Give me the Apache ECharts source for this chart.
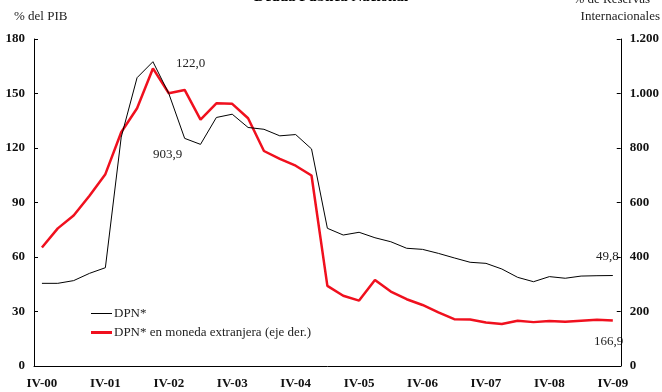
<!DOCTYPE html>
<html>
<head>
<meta charset="utf-8">
<script src="https://cdn.jsdelivr.net/npm/echarts@6/dist/echarts.min.js"></script>
<style>
html,body{margin:0;padding:0;background:#fff;}
#chart{width:662px;height:392px;}
</style>
</head>
<body>
<div id="chart"></div>
<script>
var categories = [
  'IV-00',
  'I-01','II-01','III-01','IV-01',
  'I-02','II-02','III-02','IV-02',
  'I-03','II-03','III-03','IV-03',
  'I-04','II-04','III-04','IV-04',
  'I-05','II-05','III-05','IV-05',
  'I-06','II-06','III-06','IV-06',
  'I-07','II-07','III-07','IV-07',
  'I-08','II-08','III-08','IV-08',
  'I-09','II-09','III-09','IV-09'
];
var dpnPib = [
  45.5,
  45.5, 47.0, 51.0, 54.1,
  126.0, 158.7, 167.5, 150.0,
  125.3, 122.0, 136.8, 138.6,
  131.3, 130.3, 126.7, 127.4,
  119.5, 75.8, 72.1, 73.6,
  70.6, 68.4, 64.8, 64.2,
  62.0, 59.5, 57.1, 56.5,
  53.4, 48.8, 46.4, 49.2,
  48.3, 49.5, 49.7, 49.8
];
var dpnMonedaExtranjera = [
  435,
  505, 552, 625, 704,
  858, 946, 1092, 1001,
  1013, 903.9, 964, 962,
  909, 789, 760, 735,
  699, 294, 258, 240,
  316, 273, 245, 224,
  197, 172, 171, 160,
  154, 166, 161, 165,
  162, 166, 170, 166.9
];
var leftTicks = {min: 0, max: 180, interval: 30};
var rightTicks = {min: 0, max: 1200, interval: 200};

var serif = '"Liberation Serif", "DejaVu Serif", serif';
var chart = echarts.init(document.getElementById('chart'), null, {renderer: 'canvas'});

function thousands(v) {
  return String(v).replace(/\B(?=(\d{3})+(?!\d))/g, '.');
}

var option = {
  backgroundColor: '#fff',
  animation: false,
  textStyle: {fontFamily: serif},
  grid: {left: 34, right: 36, top: 39, bottom: 26, containLabel: false},
  graphic: [
    {type: 'text', left: 'center', top: -10, style: {text: 'Deuda Pública Nacional', font: 'bold 15px ' + serif, fill: '#000'}},
    {type: 'text', left: 14, top: 10, style: {text: '% del PIB', font: '13px ' + serif, fill: '#222'}},
    {type: 'text', right: 12, top: -7, style: {text: '% de Reservas', font: '13px ' + serif, fill: '#222'}},
    {type: 'text', right: 2, top: 10, style: {text: 'Internacionales', font: '13px ' + serif, fill: '#222'}},
    {type: 'text', left: 176, top: 57, style: {text: '122,0', font: '13px ' + serif, fill: '#222'}},
    {type: 'text', left: 153, top: 148, style: {text: '903,9', font: '13px ' + serif, fill: '#222'}},
    {type: 'text', left: 596, top: 250, style: {text: '49,8', font: '13px ' + serif, fill: '#222'}},
    {type: 'text', left: 594, top: 335, style: {text: '166,9', font: '13px ' + serif, fill: '#222'}}
  ],
  legend: {
    orient: 'vertical',
    left: 86,
    top: 302,
    itemWidth: 21,
    itemHeight: 10,
    itemGap: 6,
    textStyle: {fontFamily: serif, fontSize: 13, color: '#222', padding: [0, 0, 0, -3]},
    data: [
      {name: 'DPN*', icon: 'path://M0,0L21,0L21,1L0,1Z', itemStyle: {color: '#000'}},
      {name: 'DPN* en moneda extranjera (eje der.)', icon: 'path://M0,0L21,0L21,3L0,3Z', itemStyle: {color: '#f0101e'}}
    ]
  },
  xAxis: {
    type: 'category',
    data: categories,
    boundaryGap: true,
    axisLine: {lineStyle: {color: '#000', width: 1}},
    axisTick: {inside: true, length: 4, interval: 3, lineStyle: {color: '#000'}},
    axisLabel: {interval: 3, margin: 11, fontFamily: serif, fontSize: 13, fontWeight: 'bold', color: '#111'},
    splitLine: {show: false}
  },
  yAxis: [
    {
      type: 'value', min: leftTicks.min, max: leftTicks.max, interval: leftTicks.interval,
      axisLine: {show: true, lineStyle: {color: '#000', width: 1}},
      axisTick: {show: true, inside: true, length: 4, lineStyle: {color: '#000'}},
      axisLabel: {margin: 9, fontFamily: serif, fontSize: 13, fontWeight: 'bold', color: '#111'},
      splitLine: {show: false}
    },
    {
      type: 'value', min: rightTicks.min, max: rightTicks.max, interval: rightTicks.interval,
      position: 'right',
      axisLine: {show: true, lineStyle: {color: '#000', width: 1}},
      axisTick: {show: true, inside: true, length: 4, lineStyle: {color: '#000'}},
      axisLabel: {margin: 9, fontFamily: serif, fontSize: 13, fontWeight: 'bold', color: '#111', formatter: thousands},
      splitLine: {show: false}
    }
  ],
  series: [
    {
      name: 'DPN*', type: 'line', yAxisIndex: 0, data: dpnPib,
      symbol: 'none', lineStyle: {color: '#000', width: 1}, itemStyle: {color: '#000'}, z: 3
    },
    {
      name: 'DPN* en moneda extranjera (eje der.)', type: 'line', yAxisIndex: 1, data: dpnMonedaExtranjera,
      symbol: 'none', lineStyle: {color: '#f0101e', width: 2.5}, itemStyle: {color: '#f0101e'}, z: 2
    }
  ]
};
chart.setOption(option);
</script>
</body>
</html>
